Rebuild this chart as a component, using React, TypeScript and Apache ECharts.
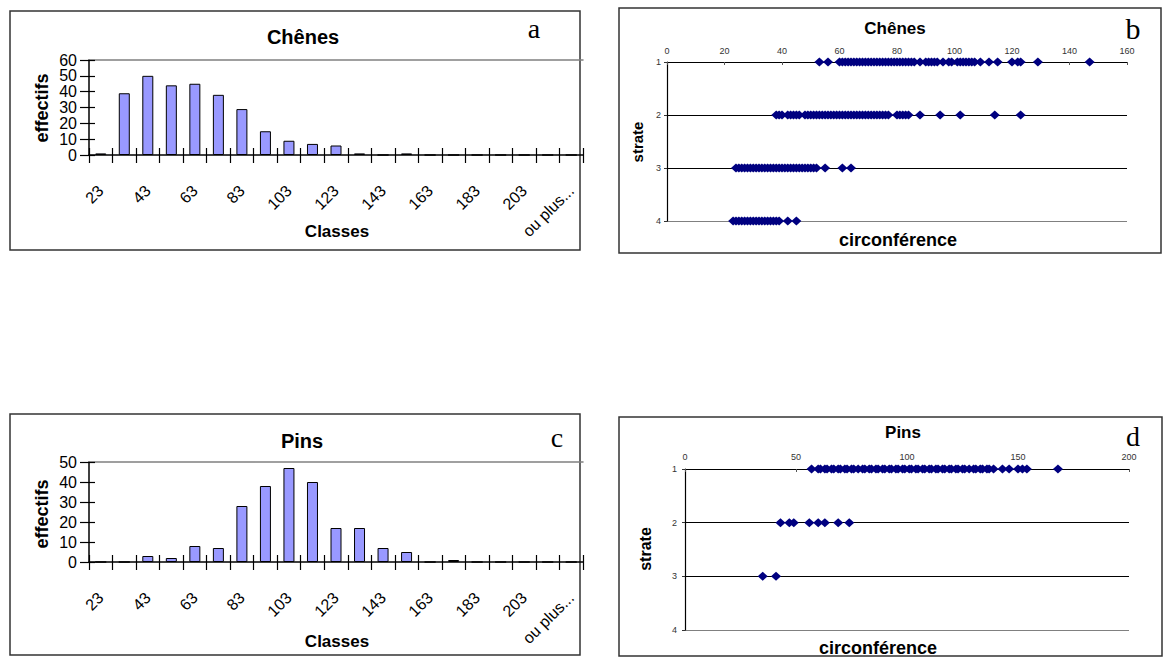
import React, { useEffect, useRef } from "react";
import * as echarts from "echarts";

// ---------- data ----------
const classLabels = ["23", "33", "43", "53", "63", "73", "83", "93", "103", "113", "123", "133", "143", "153", "163", "173", "183", "193", "203", "213", "ou plus..."];
const chenesCounts = [1, 39, 50, 44, 45, 38, 29, 15, 9, 7, 6, 1, 0, 1, 0, 0, 0, 0, 0, 0, 0];
const pinsCounts = [0, 0, 3, 2, 8, 7, 28, 38, 47, 40, 17, 17, 7, 5, 0, 1, 0, 0, 0, 0, 0];
const chenesYTicks = [0, 10, 20, 30, 40, 50, 60];
const pinsYTicks = [0, 10, 20, 30, 40, 50];

const strateTicks = [1, 2, 3, 4];
const chenesXTicks = [0, 20, 40, 60, 80, 100, 120, 140, 160];
const pinsXTicks = [0, 50, 100, 150, 200];

// circonférence per strate (Chênes)
const chenesStrate1 = [53, 56, 60, 61, 62, 63, 64, 65, 66, 67, 68, 69, 70, 71, 72, 73, 74, 75, 76, 77, 78, 79, 80, 81, 82, 83, 84, 85, 86, 88, 90, 91, 92, 93, 94, 96, 98, 99, 101, 102, 103, 104, 105, 106, 107, 109, 112, 115, 120, 122, 123, 129, 147];
const chenesStrate2 = [38, 39, 40, 42, 43, 44, 45, 46, 48, 49, 50, 51, 52, 53, 54, 55, 56, 57, 58, 59, 60, 61, 62, 63, 64, 65, 66, 67, 68, 69, 70, 71, 72, 73, 74, 75, 76, 77, 80, 81, 82, 83, 84, 88, 95, 102, 114, 123];
const chenesStrate3 = [24, 25, 26, 27, 28, 29, 30, 31, 32, 33, 34, 35, 36, 37, 38, 39, 40, 41, 42, 43, 44, 45, 46, 47, 48, 49, 50, 51, 52, 55, 61, 64];
const chenesStrate4 = [23, 24, 25, 26, 27, 28, 29, 30, 31, 32, 33, 34, 35, 36, 37, 38, 39, 42, 45];

// circonférence per strate (Pins)
const pinsStrate1 = [57, 60, 61, 63, 64, 66, 67, 69, 70, 72, 73, 75, 76, 78, 80, 81, 83, 84, 86, 87, 89, 90, 92, 93, 95, 96, 98, 99, 101, 102, 104, 105, 107, 108, 110, 111, 113, 114, 116, 117, 119, 120, 122, 123, 125, 126, 128, 130, 131, 133, 134, 136, 137, 139, 143, 146, 150, 152, 154, 168];
const pinsStrate2 = [43, 47, 49, 56, 60, 63, 69, 74];
const pinsStrate3 = [35, 41];
const pinsStrate4: number[] = [];

// ---------- styles ----------
const SANS = '"Liberation Sans", Arial, sans-serif';
const SERIF = '"Liberation Serif", "Times New Roman", serif';
const BAR_FILL = "#9999FF";
const NAVY = "#000080";
const GRAY = "#808080";

function histoAxes(gridIndex: number, yTicks: number[]) {
  const yMin = yTicks[0];
  const yMax = yTicks[yTicks.length - 1];
  const step = yTicks[1] - yTicks[0];
  const xAxes = [
    {
      type: "category",
      gridIndex,
      position: "bottom",
      data: classLabels,
      boundaryGap: true,
      axisLine: { onZero: false, lineStyle: { color: "#000", width: 1.5 } },
      axisTick: { show: true, interval: 0, length: 8, lineStyle: { color: "#000", width: 1.2 } },
      axisLabel: { interval: 1, rotate: 45, margin: 33, fontSize: 16, fontFamily: SANS, color: "#000" },
      splitLine: { show: false },
    },
    {
      type: "category",
      gridIndex,
      position: "bottom",
      data: classLabels,
      boundaryGap: true,
      axisLine: { show: false, onZero: false },
      axisTick: { show: true, inside: true, interval: 0, length: 7, lineStyle: { color: "#000", width: 1.2 } },
      axisLabel: { show: false },
      splitLine: { show: false },
    },
    {
      type: "category",
      gridIndex,
      position: "top",
      data: classLabels,
      boundaryGap: true,
      axisLine: { show: true, onZero: false, lineStyle: { color: GRAY, width: 1.5 } },
      axisTick: { show: false },
      axisLabel: { show: false },
      splitLine: { show: false },
    },
  ];
  const yAxes = [
    {
      type: "value",
      gridIndex,
      position: "left",
      min: yMin,
      max: yMax,
      interval: step,
      axisLine: { show: true, onZero: false, lineStyle: { color: "#000", width: 1.5 } },
      axisTick: { show: true, length: 9, lineStyle: { color: "#000", width: 1.2 } },
      axisLabel: { margin: 12, fontSize: 16, fontFamily: SANS, color: "#000" },
      splitLine: { show: false },
    },
    {
      type: "value",
      gridIndex,
      position: "left",
      min: yMin,
      max: yMax,
      interval: step,
      axisLine: { show: false, onZero: false },
      axisTick: { show: true, inside: true, length: 6, lineStyle: { color: "#000", width: 1.2 } },
      axisLabel: { show: false },
      splitLine: { show: false },
    },
  ];
  return { xAxes, yAxes };
}

function strateAxes(gridIndex: number, xTicks: number[], labelMargin: number, yLabelMargin: number) {
  const xAxis = {
    type: "value",
    gridIndex,
    position: "top",
    min: xTicks[0],
    max: xTicks[xTicks.length - 1],
    interval: xTicks[1] - xTicks[0],
    axisLine: { show: true, onZero: false, lineStyle: { color: "#000", width: 1.2 } },
    axisTick: { show: true, inside: true, length: 3, lineStyle: { color: "#555" } },
    axisLabel: { margin: labelMargin, fontSize: 9, fontFamily: SANS, color: "#333" },
    splitLine: { show: false },
  };
  const yAxis = {
    type: "value",
    gridIndex,
    position: "left",
    inverse: true,
    min: strateTicks[0],
    max: strateTicks[strateTicks.length - 1],
    interval: 1,
    axisLine: { show: true, onZero: false, lineStyle: { color: "#000", width: 1.2 } },
    axisTick: { show: true, length: 3, lineStyle: { color: "#333" } },
    axisLabel: { margin: yLabelMargin, fontSize: 9, fontFamily: SANS, color: "#333" },
    splitLine: { show: true, lineStyle: { color: ["#000", "#000", "#000", GRAY], width: 1.2 } },
  };
  return { xAxis, yAxis };
}

function strateData(rows: number[][]) {
  const out: number[][] = [];
  rows.forEach((vals, i) => {
    vals.forEach((v) => out.push([v, strateTicks[i]]));
  });
  return out;
}

function textEl(text: string, x: number, y: number, font: string, rotation = 0) {
  return {
    type: "text",
    x,
    y,
    rotation,
    silent: true,
    style: { text, font, fill: "#000", align: "center", verticalAlign: "middle" },
  };
}

function boxEl(x: number, y: number, w: number, h: number) {
  return {
    type: "rect",
    silent: true,
    shape: { x, y, width: w, height: h },
    style: { fill: "none", stroke: "#333", lineWidth: 1.5 },
  };
}

function buildOption() {
  const ha = histoAxes(0, chenesYTicks);
  const hc = histoAxes(2, pinsYTicks);
  const sb = strateAxes(1, chenesXTicks, 7, 6);
  const sd = strateAxes(3, pinsXTicks, 8, 8);

  const xAxis = [...ha.xAxes, sb.xAxis, ...hc.xAxes, sd.xAxis];
  const yAxis = [...ha.yAxes, sb.yAxis, ...hc.yAxes, sd.yAxis];

  const barStyle = { color: BAR_FILL, borderColor: "#000", borderWidth: 1 };
  const scatterCommon = {
    type: "scatter",
    symbol: "diamond",
    symbolSize: [10, 9],
    itemStyle: { color: NAVY, opacity: 1 },
    silent: true,
  };

  return {
    animation: false,
    backgroundColor: "#fff",
    grid: [
      { left: 89, top: 60, width: 494, height: 95, containLabel: false },
      { left: 667, top: 62, width: 460, height: 159, containLabel: false },
      { left: 89, top: 462, width: 494, height: 100, containLabel: false },
      { left: 685, top: 469, width: 444, height: 161, containLabel: false },
    ],
    xAxis,
    yAxis,
    series: [
      { type: "bar", name: "Chênes", xAxisIndex: 0, yAxisIndex: 0, data: chenesCounts, barWidth: 11, itemStyle: barStyle, silent: true },
      { ...scatterCommon, name: "Chênes strate", xAxisIndex: 3, yAxisIndex: 2, data: strateData([chenesStrate1, chenesStrate2, chenesStrate3, chenesStrate4]) },
      { type: "bar", name: "Pins", xAxisIndex: 4, yAxisIndex: 3, data: pinsCounts, barWidth: 11, itemStyle: barStyle, silent: true },
      { ...scatterCommon, name: "Pins strate", xAxisIndex: 7, yAxisIndex: 5, data: strateData([pinsStrate1, pinsStrate2, pinsStrate3, pinsStrate4]) },
    ],
    graphic: [
      boxEl(10, 11, 570, 239),
      boxEl(619, 8, 542, 245),
      boxEl(10, 414, 570, 241),
      boxEl(619, 417, 543, 239),
      textEl("Chênes", 303, 37, `bold 20px ${SANS}`),
      textEl("a", 534, 28, `28px ${SERIF}`),
      textEl("effectifs", 42, 108, `bold 18px ${SANS}`, Math.PI / 2),
      textEl("Classes", 337, 231, `bold 17px ${SANS}`),
      textEl("Chênes", 895, 28, `bold 17px ${SANS}`),
      textEl("b", 1133, 28, `30px ${SERIF}`),
      textEl("strate", 637, 142, `bold 15px ${SANS}`, Math.PI / 2),
      textEl("circonférence", 898, 240, `bold 18px ${SANS}`),
      textEl("Pins", 302, 441, `bold 20px ${SANS}`),
      textEl("c", 557, 437, `28px ${SERIF}`),
      textEl("effectifs", 42, 514, `bold 18px ${SANS}`, Math.PI / 2),
      textEl("Classes", 337, 641, `bold 17px ${SANS}`),
      textEl("Pins", 903, 432, `bold 17px ${SANS}`),
      textEl("d", 1133, 436, `28px ${SERIF}`),
      textEl("strate", 645, 549, `bold 16px ${SANS}`, Math.PI / 2),
      textEl("circonférence", 878, 648, `bold 18px ${SANS}`),
    ],
  };
}

export default function App() {
  const ref = useRef<HTMLDivElement>(null);
  useEffect(() => {
    if (!ref.current) return;
    const chart = echarts.init(ref.current, null, { renderer: "svg" });
    chart.setOption(buildOption() as any);
    return () => chart.dispose();
  }, []);
  return (
    <div
      ref={ref}
      style={{ position: "fixed", left: 0, top: 0, width: 1163, height: 657, background: "#fff" }}
    />
  );
}
